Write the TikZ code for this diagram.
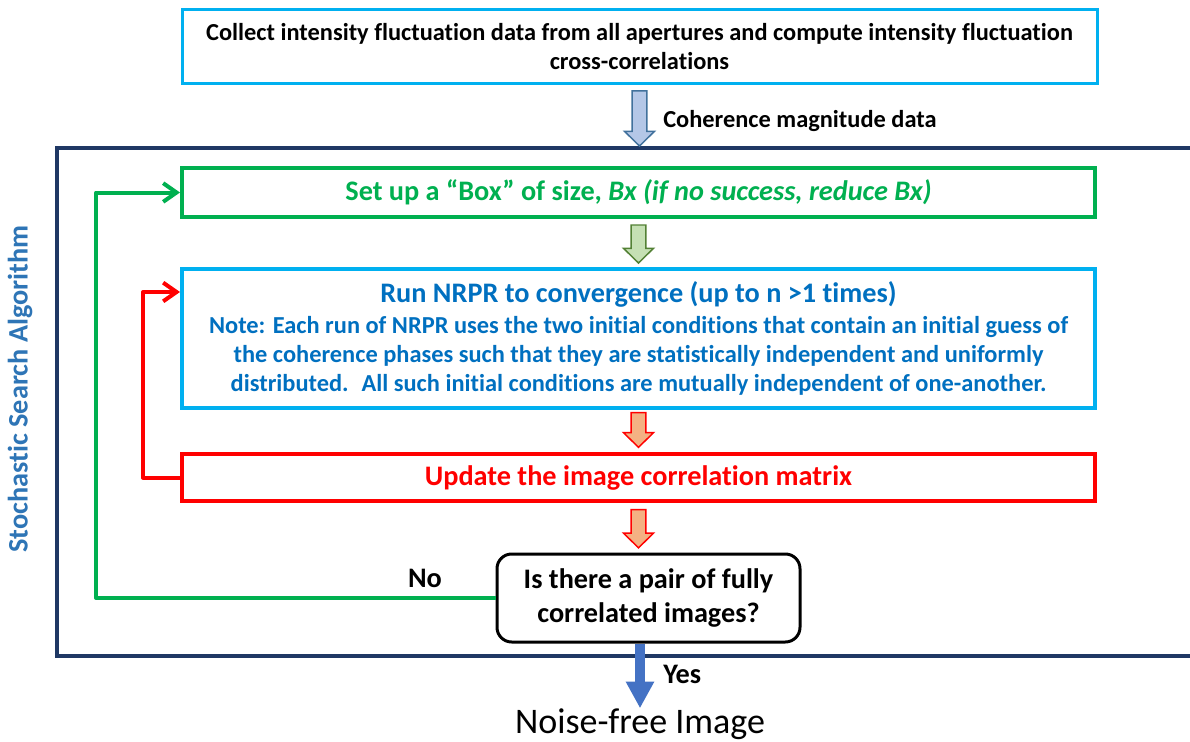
\documentclass[tikz,border=0pt]{standalone}
\usepackage{fontspec}
\setmainfont{Carlito}[Ligatures={NoCommon,NoRequired,NoContextual}]
\usetikzlibrary{arrows.meta,calc}

\definecolor{cyanline}{HTML}{00B0F0}
\definecolor{navyframe}{HTML}{1F3864}
\definecolor{greenline}{HTML}{00B050}
\definecolor{bluetext}{HTML}{0070C0}
\definecolor{sidetext}{HTML}{2E75B6}
\definecolor{redline}{HTML}{FF0000}
\definecolor{yesblue}{HTML}{4472C4}
\definecolor{paleblue}{HTML}{B4C7E7}
\definecolor{paleblueedge}{HTML}{41719C}
\definecolor{palegreen}{HTML}{C5E0B4}
\definecolor{palegreenedge}{HTML}{538135}
\definecolor{paleorange}{HTML}{F4B183}

% hollow block arrow pointing down, from the bottom of node #1 to the top of node #2
% #3 fill, #4 edge, #5 gap below #1, #6 gap above #2
\newcommand\blockdown[6]{%
  \path[draw=#4, fill=#3, line width=1.1pt, line join=miter]
    let \p1=(#1.south), \p2=(#2.north) in
    (\x1-5.6pt,\y1-#5) -- (\x1+5.6pt,\y1-#5) -- (\x1+5.6pt,\y2+#6+11pt)
    -- (\x1+11.25pt,\y2+#6+11pt) -- (\x1,\y2+#6) -- (\x1-11.25pt,\y2+#6+11pt)
    -- (\x1-5.6pt,\y2+#6+11pt) -- cycle;}

\tikzset{
  box/.style={rectangle, align=center, inner sep=0pt},
  bigbold/.style={font=\fontsize{21.2}{25.5}\selectfont\bfseries},
  smallbold/.style={font=\fontsize{18.3}{21.75}\selectfont\bfseries},
  loopline/.style={line width=3pt, line join=round,
    -{Straight Barb[length=10pt,width=14pt,line join=miter]}},
}

\begin{document}
\begin{tikzpicture}[x=0.75pt,y=-0.75pt]
\clip (0,0) rectangle (1190,742);
\fill[white] (0,0) rectangle (1190,742);

% input step
\node[box, smallbold, draw=cyanline, line width=2.25pt,
      minimum width=686.25pt, minimum height=55.5pt] (collect) at (639.5,47)
  {Collect intensity fluctuation data from all apertures and compute intensity fluctuation\\cross-correlations};

% frame of the search loop
\node[box, draw=navyframe, line width=3pt,
      minimum width=879.75pt, minimum height=381pt] (frame) at (643.5,402) {};

\node[smallbold, anchor=west, inner sep=0pt] (cohlabel) at (663,121) {Coherence magnitude data};

\node[bigbold, text=sidetext, rotate=90, inner sep=0pt] (side) at (20,389) {Stochastic Search Algorithm};

% loop steps
\node[box, bigbold, text=greenline, draw=greenline, line width=3pt,
      minimum width=684.75pt, minimum height=36.75pt] (setup) at (638.5,192.5)
  {Set up a \textquotedblleft Box\textquotedblright\ of size, \textit{Bx (if no success, reduce Bx)}};

\node[box, smallbold, text=bluetext, draw=cyanline, line width=3pt,
      minimum width=684.75pt, minimum height=104.25pt] (run) at (638.5,338.5)
  {{\fontsize{21.2}{23.25}\selectfont Run NRPR to convergence (up to n >1 times)}\\[1.5pt]
   Note: Each run of NRPR uses the two initial conditions that contain an initial guess of\\
   the coherence phases such that they are statistically independent and uniformly\\
   distributed.~ All such initial conditions are mutually independent of one-another.};

\node[box, bigbold, text=redline, draw=redline, line width=3pt,
      minimum width=684.75pt, minimum height=35.25pt] (upd) at (638.5,477.5)
  {Update the image correlation matrix};

\node[box, bigbold, draw=black, line width=2.25pt, rounded corners=11pt,
      minimum width=227.25pt, minimum height=66pt] (dec) at (648.5,598)
  {Is there a pair of fully\\correlated images?};

\node[bigbold, inner sep=0pt] (no) at (425,578) {No};
\node[bigbold, anchor=west, inner sep=0pt] (yes) at (663,674) {Yes};
\node[font=\fontsize{27}{30}\selectfont, inner sep=0pt] (noise) at (640,724) {Noise-free Image};

% block arrows between steps
\blockdown{collect}{frame}{paleblue}{paleblueedge}{4pt}{0pt}
\blockdown{setup}{run}{palegreen}{palegreenedge}{4.5pt}{3pt}
\blockdown{run}{upd}{paleorange}{redline}{2pt}{3.5pt}
\blockdown{upd}{dec}{paleorange}{redline}{5pt}{3.5pt}

% feedback loops
\coordinate (gl) at (96,0);
\coordinate (rl) at (143,0);
\coordinate (runin) at ($(run.north west)+(0,25)$);
\draw[loopline, draw=greenline] (dec.west) -- (dec.west -| gl) |- (setup.west);
\draw[loopline, draw=redline] (upd.west) -- (upd.west -| rl) |- (runin);

% exit
\draw[yesblue, line width=7.5pt, -{Triangle[width=20pt,length=20pt]}]
  (dec.south -| noise.north) -- (noise.north);
\end{tikzpicture}
\end{document}
